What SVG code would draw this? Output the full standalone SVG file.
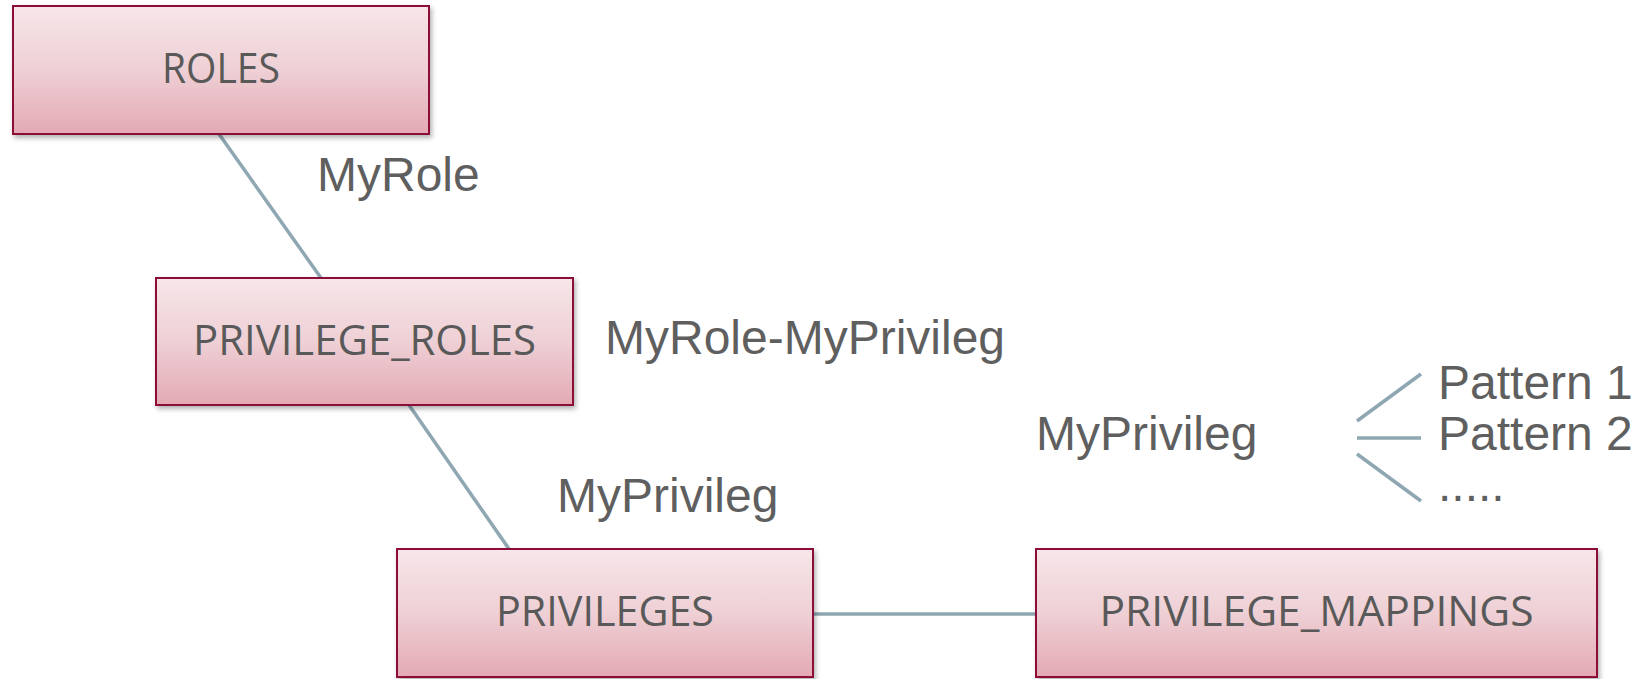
<svg xmlns="http://www.w3.org/2000/svg" width="1645" height="679" viewBox="0 0 1645 679">
  <defs>
    <linearGradient id="boxGrad" x1="0" y1="0" x2="0" y2="1">
      <stop offset="0" stop-color="#f7e6e9"/>
      <stop offset="0.5" stop-color="#eed0d5"/>
      <stop offset="1" stop-color="#e4a9b4"/>
    </linearGradient>
    <filter id="shadow" x="-5%" y="-10%" width="115%" height="130%">
      <feDropShadow dx="2" dy="3" stdDeviation="2.5" flood-color="#000" flood-opacity="0.3"/>
    </filter>
  </defs>
  <style>
    .box { fill: url(#boxGrad); stroke: #8c1139; stroke-width: 2; filter: url(#shadow); }
    .btxt { font-family: "Open Sans", "Noto Sans", "Liberation Sans", sans-serif; font-size: 42px; fill: #595959; text-anchor: middle; }
    .lbl { font-family: "Liberation Sans", Arial, sans-serif; font-size: 48px; fill: #5f5f5f; }
    .conn { stroke: #8ea7b2; stroke-width: 3.5; fill: none; }
  </style>
  <rect width="1645" height="679" fill="#ffffff"/>

  <g id="connectors">
    <line class="conn" x1="219" y1="134" x2="321" y2="278"/>
    <line class="conn" x1="409" y1="405" x2="509" y2="549"/>
    <line class="conn" x1="813" y1="614" x2="1036" y2="614"/>
    <line class="conn" x1="1357" y1="421" x2="1421" y2="374"/>
    <line class="conn" x1="1357" y1="438" x2="1421" y2="438"/>
    <line class="conn" x1="1357" y1="454" x2="1421" y2="501"/>
  </g>

  <g id="node-roles">
    <rect class="box" x="13" y="6" width="416" height="128"/>
    <text class="btxt" x="221" y="83" textLength="118" lengthAdjust="spacingAndGlyphs">ROLES</text>
  </g>
  <g id="node-privilege-roles">
    <rect class="box" x="156" y="278" width="417" height="127"/>
    <text class="btxt" x="364.5" y="355" textLength="343" lengthAdjust="spacingAndGlyphs">PRIVILEGE_ROLES</text>
  </g>
  <g id="node-privileges">
    <rect class="box" x="397" y="549" width="416" height="128"/>
    <text class="btxt" x="605" y="626" textLength="218" lengthAdjust="spacingAndGlyphs">PRIVILEGES</text>
  </g>
  <g id="node-privilege-mappings">
    <rect class="box" x="1036" y="549" width="561" height="128"/>
    <text class="btxt" x="1316.5" y="626" textLength="434" lengthAdjust="spacingAndGlyphs">PRIVILEGE_MAPPINGS</text>
  </g>

  <g id="labels">
    <text class="lbl" x="317" y="191">MyRole</text>
    <text class="lbl" x="605" y="354">MyRole-MyPrivileg</text>
    <text class="lbl" x="557" y="512">MyPrivileg</text>
    <text class="lbl" x="1036" y="450">MyPrivileg</text>
    <text class="lbl" x="1438" y="399">Pattern 1</text>
    <text class="lbl" x="1438" y="450">Pattern 2</text>
    <text class="lbl" x="1438" y="501">.....</text>
  </g>
</svg>
